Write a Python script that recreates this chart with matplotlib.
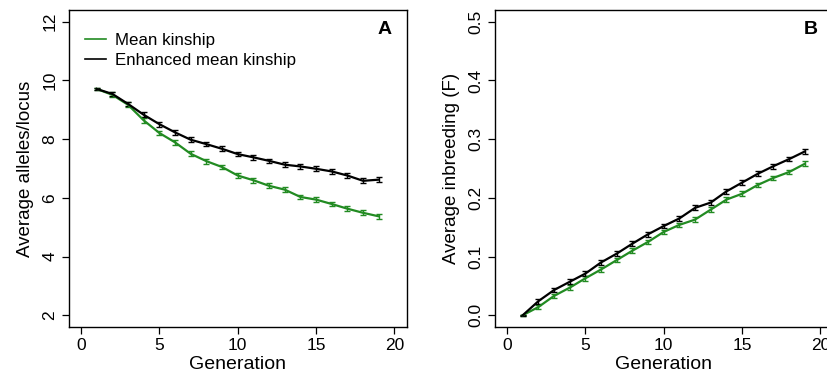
import matplotlib
matplotlib.use("Agg")
import matplotlib.pyplot as plt
from matplotlib.lines import Line2D

plt.rcParams['font.family'] = ['Liberation Sans', 'DejaVu Sans']

generations = list(range(1, 20))

# Panel A: average alleles per locus
alleles_mk = [9.71, 9.51, 9.17, 8.64, 8.21, 7.89, 7.50, 7.25, 7.05, 6.76,
              6.60, 6.41, 6.28, 6.03, 5.94, 5.79, 5.63, 5.49, 5.37]
alleles_emk = [9.71, 9.54, 9.20, 8.83, 8.51, 8.23, 7.98, 7.83, 7.67, 7.49,
               7.38, 7.26, 7.13, 7.07, 6.99, 6.90, 6.76, 6.58, 6.62]
alleles_err_mk = [0.03] + [0.08] * 18
alleles_err_emk = [0.03] + [0.08] * 18

# Panel B: average inbreeding F
inb_mk = [0.0, 0.014, 0.033, 0.047, 0.063, 0.078, 0.094, 0.110, 0.125, 0.142,
          0.154, 0.163, 0.180, 0.197, 0.207, 0.222, 0.234, 0.244, 0.258]
inb_emk = [0.0, 0.024, 0.043, 0.057, 0.071, 0.090, 0.105, 0.122, 0.138, 0.152,
           0.165, 0.183, 0.192, 0.211, 0.226, 0.241, 0.254, 0.266, 0.279]
inb_err_mk = [0.001] + [0.004] * 18
inb_err_emk = [0.001] + [0.004] * 18

series_labels = ['Mean kinship', 'Enhanced mean kinship']

green = '#228B22'
black = '#000000'

fig = plt.figure(figsize=(8.27, 3.76), dpi=100)
axA = fig.add_axes([68.5 / 827, 49 / 376, 338.5 / 827, 317 / 376])
axB = fig.add_axes([494.5 / 827, 49 / 376, 338.5 / 827, 317 / 376])


def style(ax):
    for s in ax.spines.values():
        s.set_linewidth(1.0)
        s.set_color('black')
    ax.tick_params(direction='out', length=5, width=0.9, labelsize=12.5, pad=3)
    ax.tick_params(axis='y', labelrotation=90)
    for lab in ax.get_yticklabels():
        lab.set_verticalalignment('center')


ekw = dict(capsize=2.2, elinewidth=1.0, capthick=1.0, linewidth=1.6)
axA.errorbar(generations, alleles_mk, yerr=alleles_err_mk, color=green, **ekw)
axA.errorbar(generations, alleles_emk, yerr=alleles_err_emk, color=black, **ekw)
axA.set_xlim(-0.8, 20.8)
axA.set_ylim(1.6, 12.4)
axA.set_xticks([0, 5, 10, 15, 20])
axA.set_yticks([2, 4, 6, 8, 10, 12])
axA.set_xlabel('Generation', fontsize=14, labelpad=2)
axA.set_ylabel('Average alleles/locus', fontsize=13.5, labelpad=6)
style(axA)
axA.text(0.955, 0.965, 'A', transform=axA.transAxes, ha='right', va='top',
         fontsize=14, fontweight='bold')
lh = [Line2D([], [], color=green, lw=1.2), Line2D([], [], color=black, lw=1.2)]
axA.legend(lh, series_labels, loc='upper left', frameon=False, fontsize=12.2,
           handlelength=1.25, handletextpad=0.55, labelspacing=0.3,
           borderaxespad=0.0, bbox_to_anchor=(0.028, 0.95))

axB.errorbar(generations, inb_mk, yerr=inb_err_mk, color=green, **ekw)
axB.errorbar(generations, inb_emk, yerr=inb_err_emk, color=black, **ekw)
axB.set_xlim(-0.8, 20.8)
axB.set_ylim(-0.02, 0.52)
axB.set_xticks([0, 5, 10, 15, 20])
axB.set_yticks([0.0, 0.1, 0.2, 0.3, 0.4, 0.5])
axB.set_yticklabels(['0.0', '0.1', '0.2', '0.3', '0.4', '0.5'])
axB.set_xlabel('Generation', fontsize=14, labelpad=2)
axB.set_ylabel('Average inbreeding (F)', fontsize=13.5, labelpad=6)
style(axB)
axB.text(0.955, 0.965, 'B', transform=axB.transAxes, ha='right', va='top',
         fontsize=14, fontweight='bold')

fig.savefig('out.png', dpi=100)
